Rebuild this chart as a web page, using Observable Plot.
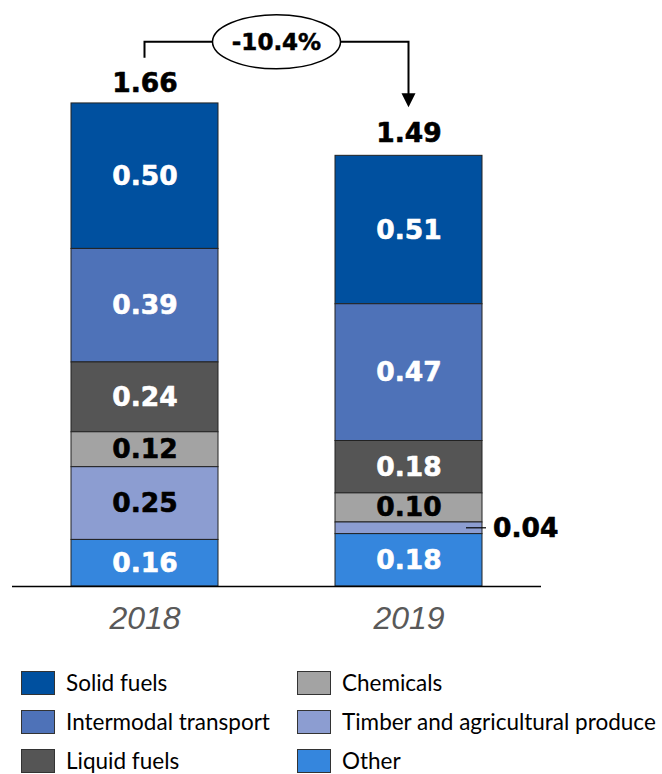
<!DOCTYPE html>
<html>
<head>
<meta charset="utf-8">
<script src="https://cdn.jsdelivr.net/npm/d3@7"></script>
<script src="https://cdn.jsdelivr.net/npm/@observablehq/plot@0.6"></script>
<style>
  html, body { margin: 0; padding: 0; background: #fff; }
  #chart { width: 662px; }
  .legend { display: grid; grid-template-columns: 277px 385px; row-gap: 14px; margin-top: 10px;
            font-family: Lato, "Open Sans", sans-serif; font-size: 22.5px; color: #000; }
  .legend .item { display: flex; align-items: center; height: 25px; }
  .legend .sw { width: 34px; height: 24px; border: 1px solid #333; box-sizing: border-box; margin-right: 11px; flex: none; }
  .legend .item.c1 { padding-left: 21px; }
  .legend .item.c2 { padding-left: 20px; }
</style>
</head>
<body>
<div id="chart"></div>
<script>
// Freight volumes by commodity group (stacked), two years
const years = ["2018", "2019"];
const categories = ["Solid fuels", "Intermodal transport", "Liquid fuels", "Chemicals", "Timber and agricultural produce", "Other"];
const colors = ["#00509F", "#4E72B8", "#555555", "#A3A3A3", "#8C9DD1", "#3586DD"];
const labelColors = ["#fff", "#fff", "#fff", "#000", "#000", "#fff"];
const values2018 = [0.50, 0.39, 0.24, 0.12, 0.25, 0.16];
const values2019 = [0.51, 0.47, 0.18, 0.10, 0.04, 0.18];
const totals = [1.66, 1.49];
const changeLabel = "-10.4%";

// stacking order, bottom to top
const stackOrder = categories.slice().reverse();

const rows = [];
[values2018, values2019].forEach((vals, i) => {
  categories.forEach((c, j) => rows.push({year: years[i], cat: c, value: vals[j], labelColor: labelColors[j]}));
});
// segments too thin for an inside label get an outside callout
const isThin = d => d.value < 0.06;

const totalRows = years.map((y, i) => ({year: y, total: totals[i]}));

const boldFont = "DejaVu Sans";
const labelStyle = {fontFamily: boldFont, fontWeight: "bold", fontSize: 26.5, strokeWidth: 0.6};

// bracket + arrow annotation between the two totals, plus callout leader line
function annotation(index, scales) {
  const {x, y} = scales;
  const bw = x.bandwidth();
  const x0 = x(years[0]) + bw / 2;
  const x1 = x(years[1]) + bw / 2;
  const top = Math.max(...totals) + 0.21;
  const yTop = y(top);
  const yStart = y(totals[0] + 0.155);
  const yTip = y(totals[1] + 0.155);
  const g = d3.create("svg:g");
  g.append("path")
    .attr("d", `M${x0},${yStart}V${yTop}H${x1}V${yTip - 13}`)
    .attr("fill", "none").attr("stroke", "#000").attr("stroke-width", 2);
  g.append("path")
    .attr("d", `M${x1 - 7},${yTip - 14}L${x1 + 7},${yTip - 14}L${x1},${yTip}Z`)
    .attr("fill", "#000");
  const cx = (x0 + x1) / 2;
  g.append("ellipse")
    .attr("cx", cx).attr("cy", yTop).attr("rx", 64).attr("ry", 27)
    .attr("fill", "#fff").attr("stroke", "#000").attr("stroke-width", 1.5);
  g.append("text")
    .attr("x", cx).attr("y", yTop).attr("dy", "0.36em")
    .attr("text-anchor", "middle")
    .attr("font-family", boldFont).attr("font-weight", "bold").attr("font-size", 23)
    .attr("stroke", "#000").attr("stroke-width", 0.5)
    .text(changeLabel);
  // leader line to outside label for thin segments
  [values2018, values2019].forEach((vals, i) => {
    let base = 0;
    stackOrder.forEach(c => {
      const v = vals[categories.indexOf(c)];
      if (v < 0.06) {
        const yy = y(base + v / 2);
        const xr = x(years[i]) + bw;
        g.append("line")
          .attr("x1", xr - 16).attr("x2", xr + 4).attr("y1", yy).attr("y2", yy)
          .attr("stroke", "#000").attr("stroke-width", 1.2);
      }
      base += v;
    });
  });
  return g.node();
}

const chart = Plot.plot({
  width: 662,
  height: 660,
  marginLeft: 12,
  marginRight: 121,
  marginTop: 4,
  marginBottom: 74,
  x: {domain: years, paddingInner: 0.444, paddingOuter: 0.223, axis: null},
  y: {domain: [0, 2], axis: null},
  color: {domain: categories, range: colors},
  marks: [
    Plot.barY(rows, Plot.stackY({
      x: "year", y: "value", z: "cat", fill: "cat", order: stackOrder,
      stroke: "#222", strokeWidth: 1, inset: 0
    })),
    Plot.text(rows, Plot.stackY({
      x: "year", y: "value", z: "cat", order: stackOrder,
      text: d => isThin(d) ? null : d.value.toFixed(2),
      fill: "labelColor", stroke: "labelColor", ...labelStyle
    })),
    Plot.text(rows, Plot.stackY({
      x: "year", y: "value", z: "cat", order: stackOrder,
      text: d => isThin(d) ? d.value.toFixed(2) : null,
      textAnchor: "start", dx: 84, fill: "#000", stroke: "#000", ...labelStyle
    })),
    Plot.text(totalRows, {
      x: "year", y: "total", text: d => d.total.toFixed(2),
      lineAnchor: "bottom", dy: -11, fill: "#000", stroke: "#000", ...labelStyle
    }),
    Plot.ruleY([0], {stroke: "#000", strokeWidth: 1.5}),
    Plot.axisX({
      tickSize: 0, tickPadding: 20, fontSize: 32, fontStyle: "italic",
      fontFamily: "Liberation Sans", fill: "#595959", label: null
    }),
    annotation
  ]
});

const root = document.getElementById("chart");
root.appendChild(chart);

// legend, two columns, filled column by column
const legend = document.createElement("div");
legend.className = "legend";
const half = Math.ceil(categories.length / 2);
for (let r = 0; r < half; r++) {
  [r, r + half].forEach((k, col) => {
    if (k >= categories.length) return;
    const item = document.createElement("div");
    item.className = "item " + (col === 0 ? "c1" : "c2");
    const sw = document.createElement("span");
    sw.className = "sw";
    sw.style.background = colors[k];
    const t = document.createElement("span");
    t.textContent = categories[k];
    item.appendChild(sw);
    item.appendChild(t);
    legend.appendChild(item);
  });
}
root.appendChild(legend);
</script>
</body>
</html>
